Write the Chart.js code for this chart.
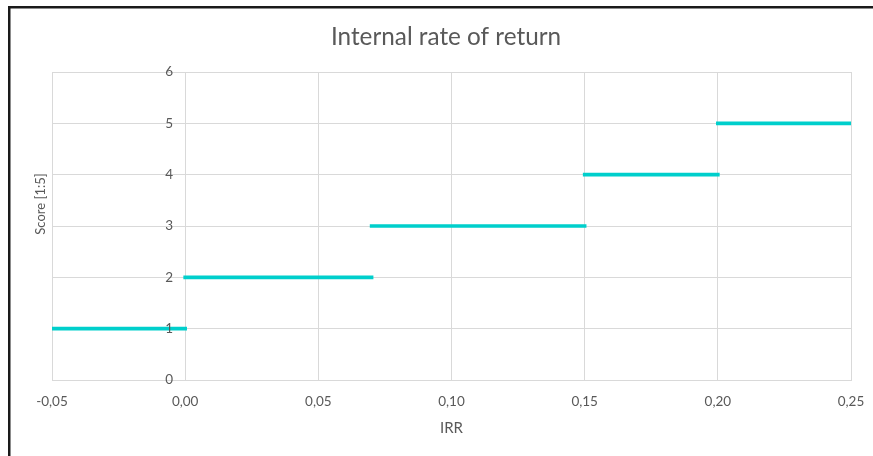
<!DOCTYPE html>
<html>
<head>
<meta charset="utf-8">
<script src="https://cdn.jsdelivr.net/npm/chart.js@4/dist/chart.umd.min.js"></script>
<style>
  html, body { margin: 0; padding: 0; background: #ffffff; overflow: hidden; }
  #wrap { width: 873px; height: 456px; }
</style>
</head>
<body>
<div id="wrap"><canvas id="irr" width="873" height="456"></canvas></div>
<script>
// Scoring steps: each IRR band [start, end) maps to a score
const stepStarts = [-0.05, 0.00, 0.07, 0.15, 0.20];
const stepEnds   = [ 0.00, 0.07, 0.15, 0.20, 0.25];
const scores     = [1, 2, 3, 4, 5];

// Axis ticks
const xTicks = [-0.05, 0.00, 0.05, 0.10, 0.15, 0.20, 0.25];
const yMin = 0;
const yMax = 6;

const chartTitle = 'Internal rate of return';
const xTitle = 'IRR';
const yTitle = 'Score [1:5]';

const textColor = '#595959';
const gridColor = '#D9D9D9';
const lineColor = '#00CFCC';
const fontFamily = 'Lato, "Open Sans", sans-serif';

// Horizontal segments, separated by gaps so the steps are not joined
const stepPoints = [];
stepStarts.forEach((s, i) => {
  stepPoints.push({ x: s, y: scores[i] });
  stepPoints.push({ x: stepEnds[i], y: scores[i] });
  stepPoints.push({ x: stepEnds[i], y: null });
});

const fmtComma = v => (Math.abs(v) < 1e-9 ? 0 : v).toFixed(2).replace('.', ',');

// The y axis crosses at x = 0; keep its labels a little left of the axis line
const yLabelGap = 12;
const yLabelNudge = {
  id: 'yLabelNudge',
  beforeDraw(chart) {
    const items = chart.scales.y.getLabelItems();
    if (!items._nudged) {
      items.forEach(it => { it.options.translation[0] -= yLabelGap; });
      items._nudged = true;
    }
  }
};

// Frame, chart title and the vertical axis title sitting at the far left
const decorations = {
  id: 'decorations',
  afterDraw(chart) {
    const ctx = chart.ctx;
    ctx.save();
    ctx.strokeStyle = '#1a1a1a';
    ctx.lineWidth = 2.5;
    ctx.strokeRect(9.25, 7.25, 900, 500);

    ctx.fillStyle = textColor;
    ctx.textAlign = 'center';
    ctx.textBaseline = 'middle';
    ctx.font = '24.3px ' + fontFamily;
    ctx.fillText(chartTitle, 446, 37);

    ctx.translate(41, 204);
    ctx.rotate(-Math.PI / 2);
    ctx.font = '13px ' + fontFamily;
    ctx.fillText(yTitle, 0, 0);
    ctx.restore();
  }
};

new Chart(document.getElementById('irr'), {
  type: 'line',
  data: {
    datasets: [{
      data: stepPoints,
      borderColor: lineColor,
      backgroundColor: lineColor,
      borderWidth: 3.6,
      borderCapStyle: 'square',
      pointRadius: 0,
      pointHoverRadius: 0,
      spanGaps: false,
      fill: false,
      tension: 0
    }]
  },
  options: {
    responsive: false,
    animation: false,
    events: [],
    layout: { padding: { left: 52, right: 22, top: 72, bottom: 0 } },
    plugins: {
      legend: { display: false },
      tooltip: { enabled: false },
      title: { display: false }
    },
    scales: {
      x: {
        type: 'linear',
        position: 'bottom',
        min: xTicks[0],
        max: xTicks[xTicks.length - 1],
        afterBuildTicks: scale => { scale.ticks = xTicks.map(v => ({ value: v })); },
        afterFit: scale => {
          scale.height = 76;
          scale.paddingLeft = 0;
          scale.paddingRight = 0;
        },
        grid: { color: gridColor, lineWidth: 1, drawTicks: false },
        border: { color: gridColor, width: 1 },
        ticks: {
          color: textColor,
          font: { family: fontFamily, size: 13.5 },
          padding: 14,
          maxRotation: 0,
          callback: v => fmtComma(v)
        },
        title: {
          display: true,
          text: xTitle,
          color: textColor,
          font: { family: fontFamily, size: 15 },
          padding: { top: 0, bottom: 19 }
        }
      },
      y: {
        type: 'linear',
        position: { x: 0 },
        min: yMin,
        max: yMax,
        grid: { color: gridColor, lineWidth: 1, drawTicks: false },
        border: { color: gridColor, width: 1 },
        ticks: {
          stepSize: 1,
          color: textColor,
          font: { family: fontFamily, size: 13.5 },
          padding: 0,
          z: 1
        }
      }
    }
  },
  plugins: [yLabelNudge, decorations]
});
</script>
</body>
</html>
